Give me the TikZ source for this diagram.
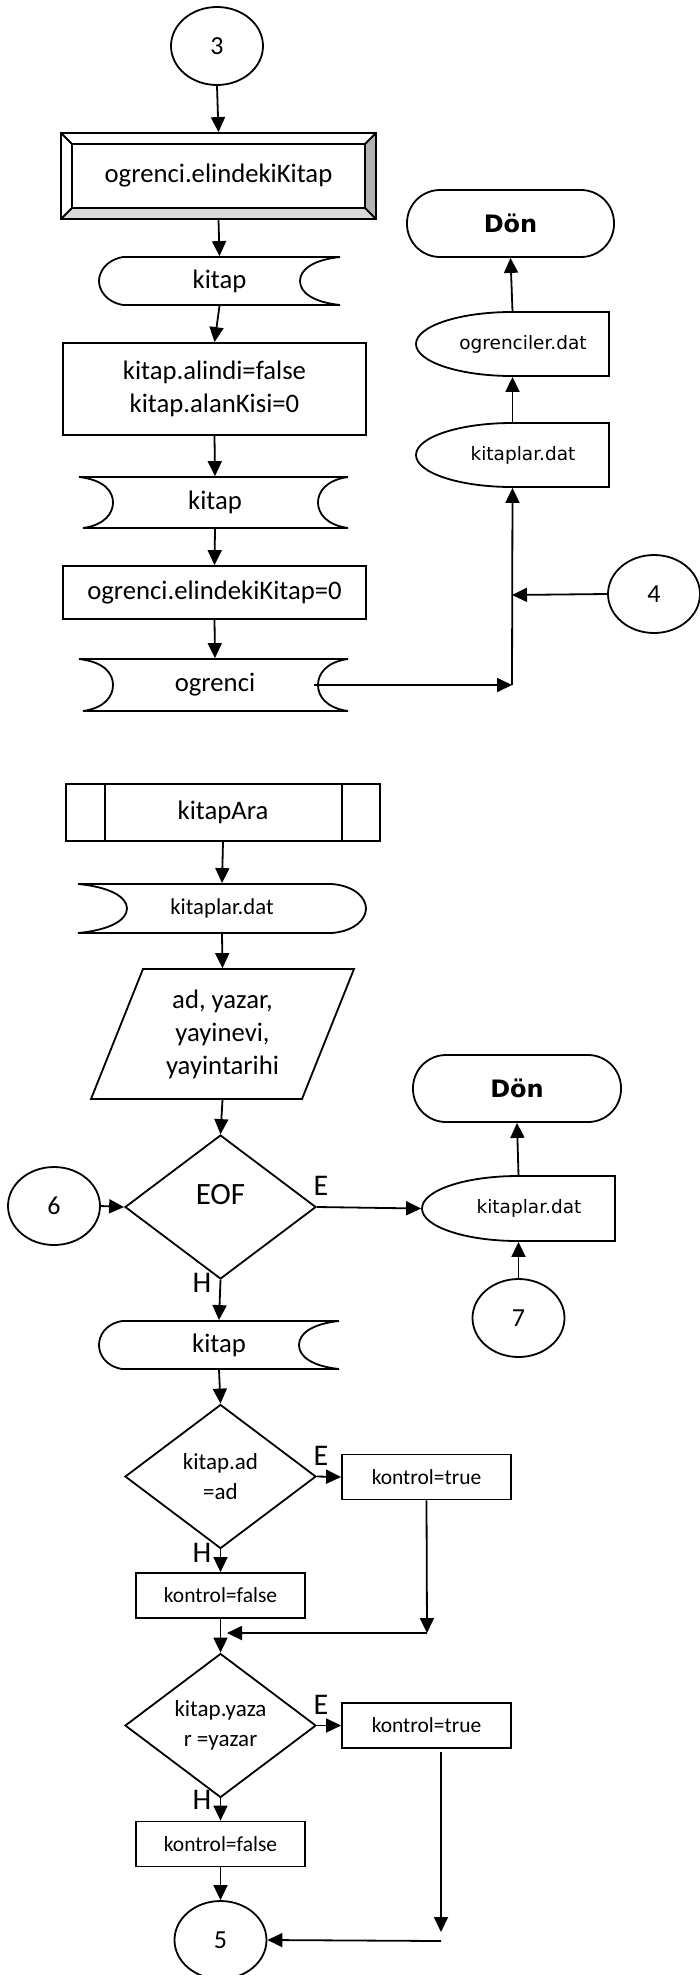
\documentclass[tikz,border=0pt]{standalone}
\usepackage{fontspec}
\setmainfont{Carlito}
\newfontfamily\verd{DejaVu Sans}
\usetikzlibrary{arrows.meta,shapes.geometric}

\begin{document}
\begin{tikzpicture}[x=1pt,y=-1pt,line width=1.8pt,
  >={Triangle[length=15pt,width=14pt]},
  conn/.style={draw,ellipse,minimum width=92pt,minimum height=78pt,inner sep=0pt,font=\fontsize{26}{30}\selectfont},
  box/.style={draw,rectangle,inner sep=0pt,align=center,font=\fontsize{26.7}{33}\selectfont},
  txt/.style={inner sep=0pt,align=center,font=\fontsize{26.7}{33}\selectfont},
  kbox/.style={draw,rectangle,minimum width=169pt,minimum height=45pt,inner sep=0pt,font=\fontsize{21.5}{26}\selectfont},
  dat/.style={inner sep=0pt,minimum width=193pt,minimum height=64pt,font=\verd\fontsize{18.5}{22}\selectfont},
  dec/.style={draw,diamond,minimum width=191pt,minimum height=144pt,inner sep=0pt,align=center,font=\fontsize{23}{30}\selectfont},
  lbl/.style={inner sep=0pt,font=\fontsize{30}{30}\selectfont},
  don/.style={draw,rounded corners=33pt,minimum width=207pt,minimum height=67pt,inner sep=0pt,font=\verd\bfseries\fontsize{24}{28}\selectfont}]
\useasboundingbox (0,0) rectangle (700,1975);

% ogrenci silme
\node[conn] (c3) at (217,46) {3};
\fill[gray!30] (61,219) -- (376,219) -- (365,208) -- (72,208) -- cycle;
\fill[gray!60] (376,133) -- (376,219) -- (365,208) -- (365,144) -- cycle;
\node[box,minimum width=315pt,minimum height=86pt] (bev) at (218.5,176) {ogrenci.elindekiKitap};
\draw (72,144) rectangle (365,208);
\draw (61,133) -- (72,144) (376,133) -- (365,144) (61,219) -- (72,208) (376,219) -- (365,208);
\node[txt,minimum width=241pt,minimum height=48pt] (kit1) at (219.5,281) {kitap};
\draw (340,257) -- (123,257) .. controls (106,260) and (99,272) .. (99,281) .. controls (99,290) and (106,302) .. (123,305) -- (340,305) .. controls (312,302) and (300,292) .. (300,281) .. controls (300,270) and (312,260) .. (340,257);
\node[box,minimum width=303pt,minimum height=92pt] (b1) at (214.5,389) {kitap.alindi=false\\kitap.alanKisi=0};
\node[txt,minimum width=267pt,minimum height=51pt] (kit2) at (215,502.5) {kitap};
\draw (79,477) -- (348,477) .. controls (326,480) and (318,492) .. (318,502.5) .. controls (318,513) and (326,525) .. (348,528) -- (83,528) .. controls (105,525) and (113,513) .. (113,502.5) .. controls (113,492) and (105,480) .. (79,477);
\node[box,minimum width=303pt,minimum height=53pt] (b2) at (214.5,592.5) {ogrenci.elindekiKitap=0};
\node[txt,minimum width=267pt,minimum height=52pt] (ogr) at (215,685) {ogrenci};
\draw (79,659) -- (348,659) .. controls (326,662) and (318,674) .. (318,685) .. controls (318,696) and (326,708) .. (348,711) -- (83,711) .. controls (105,708) and (113,696) .. (113,685) .. controls (113,674) and (105,662) .. (79,659);
\node[don] (don1) at (510.5,223.5) {Dön};
\node[dat] (ogd) at (512.5,344) {\hspace*{21pt}ogrenciler.dat};
\draw (512,312) -- (609,312) -- (609,376) -- (512,376) .. controls (459,376) and (416,361.7) .. (416,344) .. controls (416,326.3) and (459,312) .. (512,312);
\node[dat] (kd1) at (512.5,455) {\hspace*{21pt}kitaplar.dat};
\draw (512,423) -- (609,423) -- (609,487) -- (512,487) .. controls (459,487) and (416,472.7) .. (416,455) .. controls (416,437.3) and (459,423) .. (512,423);
\node[conn] (c4) at (654,594) {4};
\coordinate (j1) at (512,685);
\coordinate (j2) at (512,595);
\draw[->] (c3.south) -- (bev.north);
\draw[->] (bev.south) -- (kit1.north);
\draw[->] (kit1.south) -- (b1.north);
\draw[->] (b1.south) -- (kit2.north);
\draw[->] (kit2.south) -- (b2.north);
\draw[->] (b2.south) -- (ogr.north);
\draw[->] ([xshift=-35pt]ogr.east) -- (j1);
\draw[->] (j1) -- (kd1.south);
\draw[->] (c4.west) -- (j2);
\draw[->] (kd1.north) -- (ogd.south);
\draw[->] (ogd.north) -- (don1.south);

% kitapAra
\node[box,minimum width=314pt,minimum height=57pt] (ka) at (223,812.5) {kitapAra};
\draw (105,784) -- (105,841) (342,784) -- (342,841);
\node[txt,minimum width=288pt,minimum height=49pt,font=\fontsize{22.7}{28}\selectfont] (kd2) at (222,908.5) {kitaplar.dat};
\draw (78,884) -- (332,884) .. controls (355,886) and (366,898) .. (366,908.5) .. controls (366,919) and (355,931) .. (332,933) -- (78,933) .. controls (110,930) and (127,920) .. (127,908.5) .. controls (127,897) and (110,887) .. (78,884);
\node[txt,minimum width=263pt,minimum height=130pt] (par) at (222.5,1034) {ad, yazar,\\yayinevi,\\yayintarihi};
\draw (143,969) -- (354,969) -- (302,1099) -- (91,1099) -- cycle;
\node[dec,font=\fontsize{31}{34}\selectfont] (eof) at (220.5,1207) {\raisebox{26pt}{EOF}};
\node[conn] (c6) at (54,1206) {6};
\node[dat,minimum height=65pt] (kd3) at (518.5,1208.5) {\hspace*{21pt}kitaplar.dat};
\draw (518,1176) -- (615,1176) -- (615,1241) -- (518,1241) .. controls (465,1241) and (422,1226.5) .. (422,1208.5) .. controls (422,1190.5) and (465,1176) .. (518,1176);
\node[don,minimum width=208pt] (don2) at (517,1088.5) {Dön};
\node[conn] (c7) at (518.5,1318) {7};
\node[lbl] (e1) at (321,1186) {E};
\node[lbl] (h1) at (202,1283) {H};
\node[txt,minimum width=240pt,minimum height=48pt] (kit3) at (219,1345) {kitap};
\draw (339,1321) -- (122,1321) .. controls (105,1324) and (99,1336) .. (99,1345) .. controls (99,1354) and (105,1366) .. (122,1369) -- (339,1369) .. controls (311,1366) and (299,1356) .. (299,1345) .. controls (299,1334) and (311,1324) .. (339,1321);
\node[dec] (d1) at (220.5,1476.5) {kitap.ad\\=ad};
\node[kbox] (t1) at (426.5,1477) {kontrol=true};
\node[lbl] (e2) at (321,1456) {E};
\node[lbl] (h2) at (202,1553) {H};
\node[kbox] (f1) at (220.5,1595.5) {kontrol=false};
\coordinate (m1) at (427,1633);
\coordinate (m2) at (227,1633);
\node[dec] (d2) at (220.5,1725.5) {kitap.yaza\\r =yazar};
\node[kbox] (t2) at (426.5,1725.5) {kontrol=true};
\node[lbl] (e3) at (321,1705) {E};
\node[lbl] (h3) at (202,1800) {H};
\node[kbox] (f2) at (220.5,1844) {kontrol=false};
\node[conn] (c5) at (220.5,1940) {5};
\coordinate (n1) at (441,1752);
\coordinate (n2) at (441,1932);
\coordinate (n3) at (441,1941);
\draw[->] (ka.south) -- (kd2.north);
\draw[->] (kd2.south) -- (par.north);
\draw[->] (par.south) -- (eof.north);
\draw[->] (c6.east) -- (eof.west);
\draw[->] (eof.east) -- (kd3.west);
\draw[->] (kd3.north) -- (don2.south);
\draw[->] (c7.north) -- (kd3.south);
\draw[->] (eof.south) -- (kit3.north);
\draw[->] (kit3.south) -- (d1.north);
\draw[->] (d1.east) -- (t1.west);
\draw[->] (d1.south) -- (f1.north);
\draw[->] (t1.south) -- (m1);
\draw[->] (m1) -- (m2);
\draw[->] (f1.south) -- (d2.north);
\draw[->] (d2.east) -- (t2.west);
\draw[->] (d2.south) -- (f2.north);
\draw[->] (f2.south) -- (c5.north);
\draw[->] (n1) -- (n2);
\draw[->] (n3) -- (c5.east);
\end{tikzpicture}
\end{document}
